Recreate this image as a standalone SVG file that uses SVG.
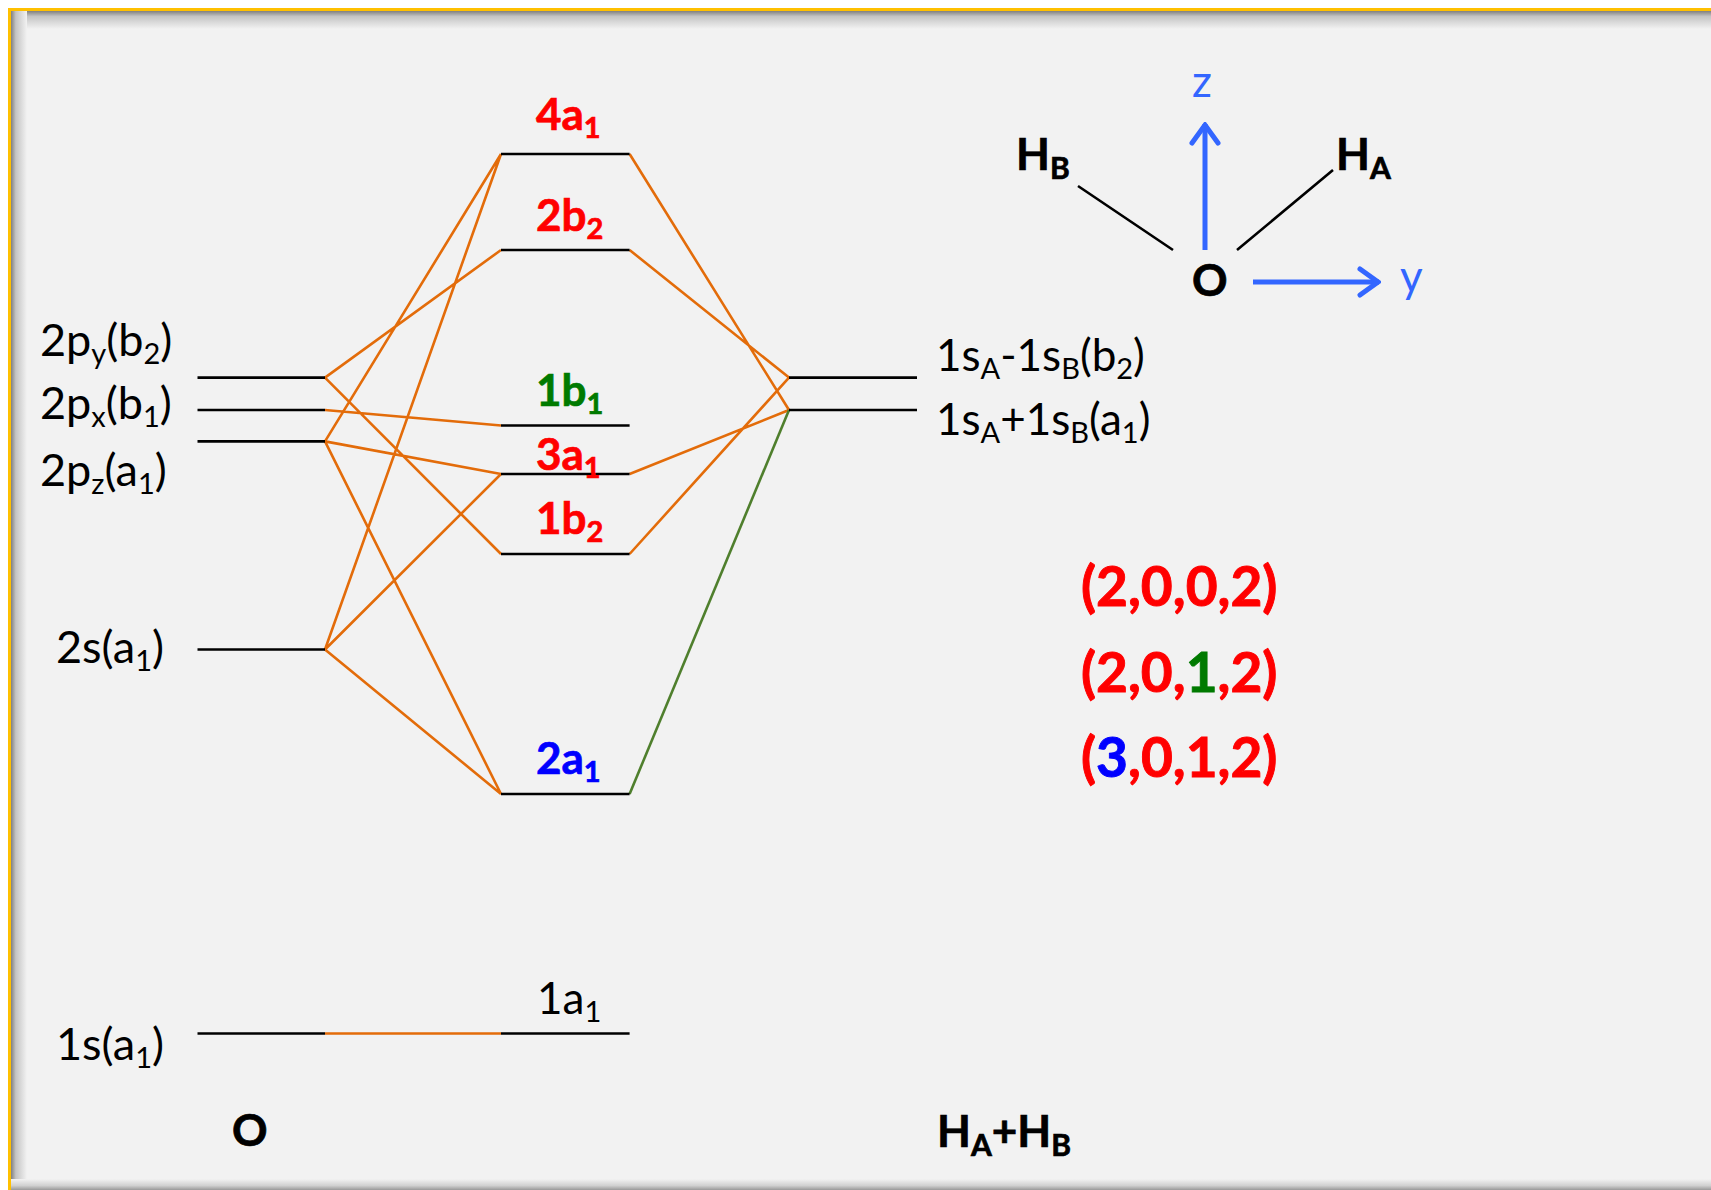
<svg xmlns="http://www.w3.org/2000/svg" width="1711" height="1190" viewBox="0 0 1711 1190">
<style>
text{font-family:Lato,"Open Sans",sans-serif;fill:#000}
.l{font-size:44px}
.a{font-size:45px}
.b{font-size:44px;font-weight:700;stroke-width:.7}
.r{fill:#f00;stroke:#f00}.g{fill:#007a00;stroke:#007a00}.u{fill:#00f;stroke:#00f}.c{fill:#3366ff}
.s{font-size:29px}
.k{font-size:44px;font-weight:700;stroke:#000;stroke-width:.7}
.k2{font-size:30px}
.lv{stroke:#000;stroke-width:2.600;fill:none}
.o{stroke:#e36c0a;stroke-width:2.600;fill:none}
.t{font-size:55px;font-weight:700;stroke-width:.9}
.ax{stroke:#3366ff;stroke-width:5;fill:none}
</style>
<defs>
<linearGradient id="sl"><stop offset="0" stop-color="#808080"/><stop offset="0.3" stop-color="#c4c4c4"/><stop offset="1" stop-color="#f2f2f2"/></linearGradient>
<linearGradient id="st" x2="0" y2="1"><stop offset="0" stop-color="#808080"/><stop offset="0.3" stop-color="#c4c4c4"/><stop offset="1" stop-color="#f2f2f2"/></linearGradient>
<linearGradient id="sb" x2="0" y2="1"><stop offset="0" stop-color="#f2f2f2"/><stop offset="0.6" stop-color="#d0d0d0"/><stop offset="1" stop-color="#999"/></linearGradient>
<marker id="ah" viewBox="0 0 12 16" refX="11" refY="8" markerWidth="24" markerHeight="32" markerUnits="userSpaceOnUse" orient="auto"><path d="M1.500 1.500L10.500 8L1.500 14.500" fill="none" stroke="#3366ff" stroke-width="2.500" stroke-linecap="round" stroke-linejoin="miter"/></marker>
</defs>
<rect width="1711" height="1190" fill="#fff"/>
<rect x="10" y="10" width="1701" height="1180" fill="#f2f2f2"/>
<rect x="11" y="11" width="1700" height="18" fill="url(#st)"/>
<rect x="11" y="11" width="16" height="1179" fill="url(#sl)"/>
<rect x="11" y="1179" width="1700" height="11" fill="url(#sb)"/>
<path d="M1711 9.500H9.500V1190" fill="none" stroke="#ffc000" stroke-width="3"/>

<g id="connectors">
<path class="o" d="M325 377.600L501 250M325 377.600L501 554M325 410L501 425.500M325 441.400L501 154M325 441.400L501 474M325 441.400L501 794M325 649.500L501 154M325 649.500L501 474M325 649.500L501 794M325 1033.500H501"/>
<path class="o" d="M629.600 154L789 410M629.600 250L789 377.600M629.600 474L789 410M629.600 554L789 377.600"/>
<path d="M629.600 794L789 410" stroke="#4f7f2d" stroke-width="2.600" fill="none"/>
</g>

<g id="ao-2py"><path class="lv" d="M197.500 377.600H325"/><text class="a" x="40" y="356">2p<tspan class="s" dy="8">y</tspan><tspan dy="-8">(b</tspan><tspan class="s" dy="8">2</tspan><tspan dy="-8">)</tspan></text></g>
<g id="ao-2px"><path class="lv" d="M197.500 410H325"/><text class="a" x="40" y="419">2p<tspan class="s" dy="8">x</tspan><tspan dy="-8">(b</tspan><tspan class="s" dy="8">1</tspan><tspan dy="-8">)</tspan></text></g>
<g id="ao-2pz"><path class="lv" d="M197.500 441.400H325"/><text class="a" x="40" y="486">2p<tspan class="s" dy="8">z</tspan><tspan dy="-8">(a</tspan><tspan class="s" dy="8">1</tspan><tspan dy="-8">)</tspan></text></g>
<g id="ao-2s"><path class="lv" d="M197.500 649.500H325"/><text class="a" x="56" y="663">2s(a<tspan class="s" dy="8">1</tspan><tspan dy="-8">)</tspan></text></g>
<g id="ao-1s"><path class="lv" d="M197.500 1033.500H325"/><text class="a" x="56" y="1060">1s(a<tspan class="s" dy="8">1</tspan><tspan dy="-8">)</tspan></text></g>

<g id="mo-4a1"><path class="lv" d="M501 154H629.600"/><text class="b r" x="536" y="130">4a<tspan class="s" dy="8">1</tspan></text></g>
<g id="mo-2b2"><path class="lv" d="M501 250H629.600"/><text class="b r" x="536" y="231">2b<tspan class="s" dy="8">2</tspan></text></g>
<g id="mo-1b1"><path class="lv" d="M501 425.500H629.600"/><text class="b g" x="536" y="406">1b<tspan class="s" dy="8">1</tspan></text></g>
<g id="mo-3a1"><path class="lv" d="M501 474H629.600"/><text class="b r" x="536" y="470">3a<tspan class="s" dy="8">1</tspan></text></g>
<g id="mo-1b2"><path class="lv" d="M501 554H629.600"/><text class="b r" x="536" y="534">1b<tspan class="s" dy="8">2</tspan></text></g>
<g id="mo-2a1"><path class="lv" d="M501 794H629.600"/><text class="b u" x="536" y="774">2a<tspan class="s" dy="8">1</tspan></text></g>
<g id="mo-1a1"><path class="lv" d="M501 1033.500H629.600"/><text class="l" x="537" y="1014">1a<tspan class="s" dy="8">1</tspan></text></g>

<g id="h-b2"><path class="lv" d="M789 377.600H917"/><text class="l" x="936" y="371">1s<tspan class="s" dy="8">A</tspan><tspan dy="-8">-1s</tspan><tspan class="s" dy="8">B</tspan><tspan dy="-8">(b</tspan><tspan class="s" dy="8">2</tspan><tspan dy="-8">)</tspan></text></g>
<g id="h-a1"><path class="lv" d="M789 410H917"/><text class="l" x="936" y="435">1s<tspan class="s" dy="8">A</tspan><tspan dy="-8">+1s</tspan><tspan class="s" dy="8">B</tspan><tspan dy="-8">(a</tspan><tspan class="s" dy="8">1</tspan><tspan dy="-8">)</tspan></text></g>

<g id="label-O"><text class="k" x="232" y="1146">O</text></g>
<g id="label-HAHB"><text class="k" x="937" y="1147">H<tspan class="k2" dy="9">A</tspan><tspan dy="-9">+H</tspan><tspan class="k2" dy="9">B</tspan></text></g>

<g id="molecule">
<path stroke="#000" stroke-width="2.600" fill="none" d="M1078 186L1173 250M1237 250L1333 170"/>
<path class="ax" d="M1205 250V124" marker-end="url(#ah)"/>
<path class="ax" d="M1253 282H1379" marker-end="url(#ah)"/>
<text x="1192" y="97" class="c" style="font-size:44px">z</text>
<text x="1400" y="292" class="c" style="font-size:44px">y</text>
<text class="k" x="1016" y="170">H<tspan class="k2" dy="9">B</tspan></text>
<text class="k" x="1336" y="170">H<tspan class="k2" dy="9">A</tspan></text>
<text class="k" x="1192" y="296">O</text>
</g>

<g id="configs">
<text class="t r" x="1081" y="606">(2,0,0,2)</text>
<text class="t r" x="1081" y="692">(2,0,<tspan class="g">1</tspan>,2)</text>
<text class="t r" x="1081" y="777">(<tspan class="u">3</tspan>,0,1,2)</text>
</g>
</svg>
